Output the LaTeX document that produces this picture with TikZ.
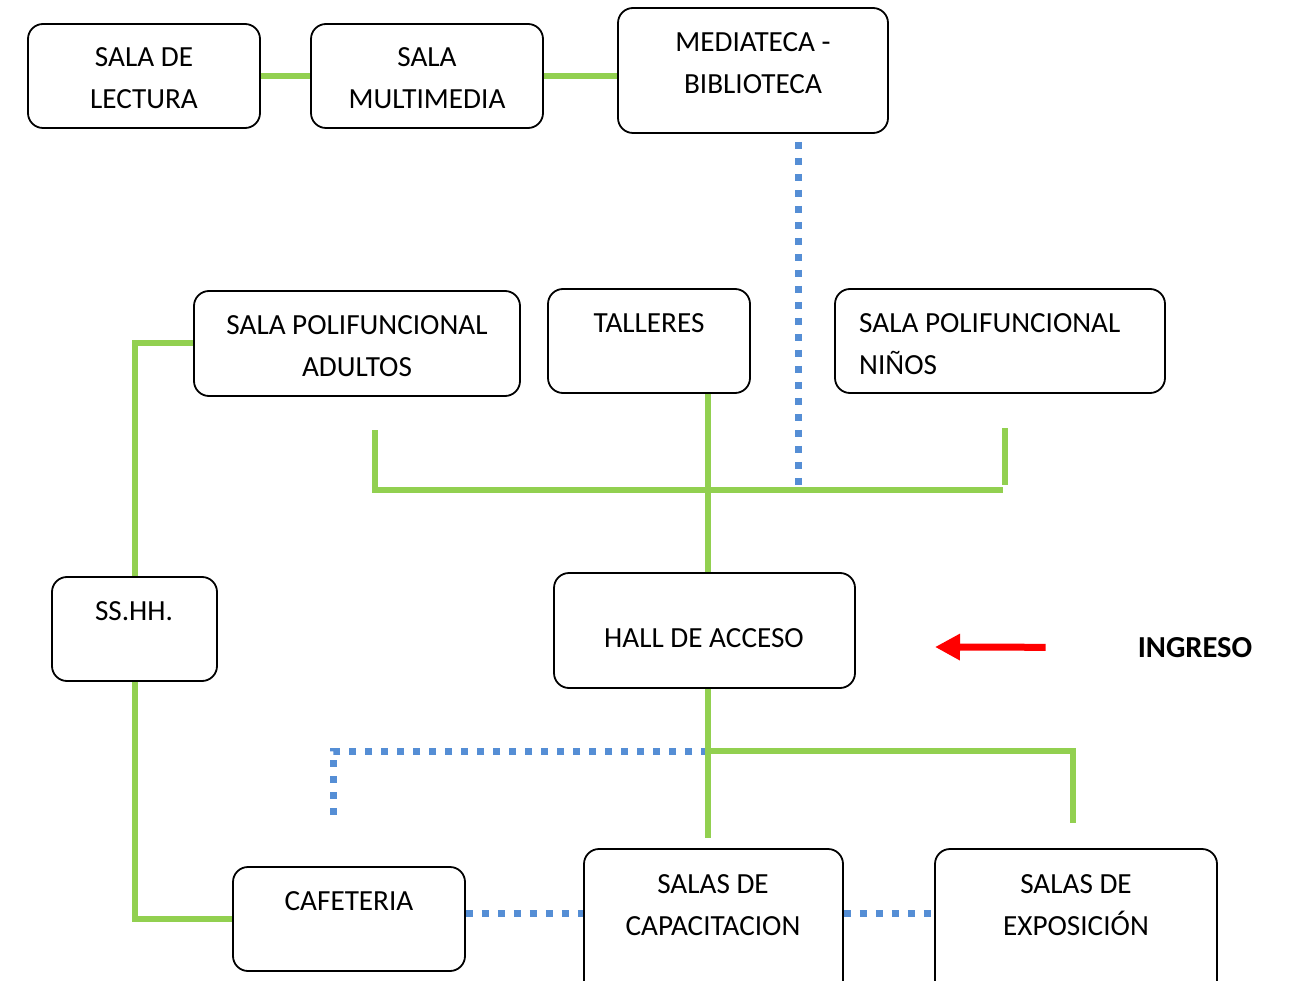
\documentclass[tikz,border=0pt]{standalone}
\usepackage{fontspec}
\setmainfont{Carlito}
\usepackage{tikz}
\usetikzlibrary{arrows.meta, positioning, calc}
\definecolor{verdelinea}{HTML}{92D050}
\definecolor{azulpunto}{HTML}{558ED5}
\definecolor{rojoflecha}{HTML}{FF0000}

\begin{document}
\begin{tikzpicture}[
    x=1pt, y=-1pt,
    sala/.style={draw=black, line width=1.8pt, rounded corners=15pt, inner sep=0pt},
    txt/.style={anchor=north, inner sep=0pt, align=center, font=\fontsize{29.2}{42}\selectfont},
    verde/.style={draw=verdelinea, line width=6pt},
    azul/.style={draw=azulpunto, line width=7pt, dash pattern=on 7pt off 9pt},
    flecha/.style={-{Triangle[length=25pt, width=25pt]}, line width=7pt, draw=rojoflecha}
]
    \clip (0,0) rectangle (1290,981);
    \fill[white] (0,0) rectangle (1290,981);

    % fila superior
    \node[sala, minimum width=232pt, minimum height=104pt] (lectura) at (144,76) {};
    \node[txt] (lectura-t) at (144,47) {SALA DE\\LECTURA};
    \node[sala, minimum width=232pt, minimum height=104pt] (multimedia) at (427,76) {};
    \node[txt] (multimedia-t) at (427,47) {SALA\\MULTIMEDIA};
    \node[sala, minimum width=270pt, minimum height=125pt] (mediateca) at (753,70.5) {};
    \node[txt] (mediateca-t) at (753,32) {MEDIATECA -\\BIBLIOTECA};

    % fila media
    \node[sala, minimum width=326pt, minimum height=105pt] (adultos) at (357,343.5) {};
    \node[txt] (adultos-t) at (357,315) {SALA POLIFUNCIONAL\\ADULTOS};
    \node[sala, minimum width=202pt, minimum height=104pt] (talleres) at (649,341) {};
    \node[txt] (talleres-t) at (649,313) {TALLERES};
    \node[sala, minimum width=330pt, minimum height=104pt] (ninos) at (1000,341) {};
    \node[txt, anchor=north west, align=left] (ninos-t) at (859,313) {SALA POLIFUNCIONAL\\NIÑOS};

    \node[sala, minimum width=165pt, minimum height=104pt] (sshh) at (134.5,629) {};
    \node[txt] (sshh-t) at (134,601) {SS.HH.};
    \node[sala, minimum width=301pt, minimum height=115pt] (hall) at (704.5,630.5) {};
    \node[txt] (hall-t) at (704,628) {HALL DE ACCESO};
    \node[anchor=north, inner sep=0pt, font=\bfseries\fontsize{30.5}{36}\selectfont] (ingreso) at (1195,637) {INGRESO};

    % fila inferior
    \node[sala, minimum width=232pt, minimum height=104pt] (cafeteria) at (349,919) {};
    \node[txt] (cafeteria-t) at (349,891) {CAFETERIA};
    \node[sala, minimum width=259pt, minimum height=150pt] (capacitacion) at (713.5,924) {};
    \node[txt] (capacitacion-t) at (713,874) {SALAS DE\\CAPACITACION};
    \node[sala, minimum width=282pt, minimum height=150pt] (exposicion) at (1076,924) {};
    \node[txt] (exposicion-t) at (1076,874) {SALAS DE\\EXPOSICIÓN};

    % puntos libres
    \coordinate (cruce) at (798,485);
    \coordinate (rama-izq) at (375,430);
    \coordinate (eje-izq) at (375,490);
    \coordinate (eje-der) at (1003,490);
    \coordinate (rama-der) at (1005,428);
    \coordinate (nudo) at (708,751);
    \coordinate (cap-fin) at (708,838);
    \coordinate (expo-fin) at (1073,823);
    \coordinate (cafe-fin) at (333,820);
    \coordinate (entrada) at (935,647);

    % conexiones
    \draw[verde] (lectura.east) -- (multimedia.west);
    \draw[verde] (multimedia.east) -- (multimedia.east -| mediateca.west);
    \draw[azul] ([xshift=45pt, yshift=-8pt]mediateca.south) -- (cruce);
    \draw[verde] (rama-izq) -- (eje-izq) -- (eje-der);
    \draw[verde] (rama-der) -- ++(0,57);
    \draw[verde] ([xshift=59pt]talleres.south) -- ([xshift=59pt]talleres.south |- hall.north);
    \draw[verde] (adultos.west) -| (sshh.north);
    \draw[verde] (sshh.south) |- (cafeteria.west);
    \draw[azul] (nudo) -| (cafe-fin);
    \draw[verde] (hall.south -| nudo) -- (cap-fin);
    \draw[verde] (nudo) -| (expo-fin);
    \draw[azul] ([yshift=6pt]cafeteria.east) -- ([yshift=6pt]cafeteria.east -| capacitacion.west);
    \draw[azul] ([yshift=11pt]capacitacion.east) -- ([yshift=11pt]capacitacion.east -| exposicion.west);
    \draw[flecha] ([xshift=-92pt]ingreso.west) -- (entrada);
\end{tikzpicture}
\end{document}
